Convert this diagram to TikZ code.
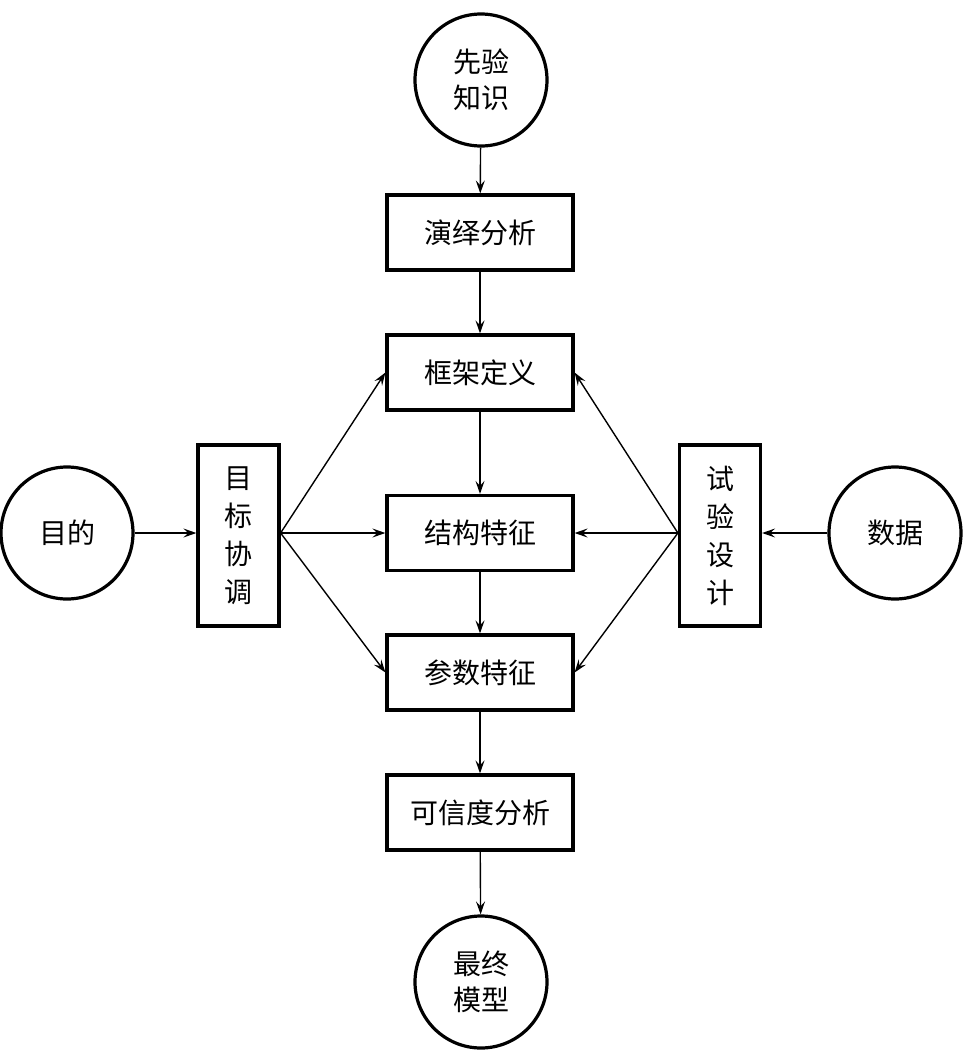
\documentclass[tikz,border=0pt]{standalone}
\usepackage{fontspec}
\setmainfont{Noto Sans CJK SC}
\usetikzlibrary{arrows.meta}
\begin{document}
\begin{tikzpicture}[x=1pt,y=-1pt,
  box/.style={draw,line width=3.2pt,minimum width=186pt,minimum height=75pt,inner sep=0pt,font=\fontsize{28}{30}\selectfont},
  vbox/.style={draw,line width=3.2pt,minimum width=81pt,minimum height=181pt,inner sep=0pt,font=\fontsize{28}{38}\selectfont,align=center},
  circ/.style={draw,circle,line width=3.2pt,minimum size=132pt,inner sep=0pt,font=\fontsize{28}{36}\selectfont,align=center},
  conn/.style={line width=1.4pt,-{Stealth[length=13pt,width=9pt,inset=5pt]}}]
\useasboundingbox (0,0) rectangle (963,1053);
\node[circ] (know) at (481,80) {先验\\知识};
\node[box] (ded) at (480,232.5) {演绎分析};
\node[box] (frame) at (480,372.5) {框架定义};
\node[box] (struct) at (480,533) {结构特征};
\node[box] (param) at (480,672.5) {参数特征};
\node[box] (cred) at (480,812.5) {可信度分析};
\node[circ] (final) at (481,982) {最终\\模型};
\node[circ] (goal) at (67,533) {目的};
\node[vbox] (coord) at (238.5,535.5) {目\\标\\协\\调};
\node[vbox] (exp) at (720,535.5) {试\\验\\设\\计};
\node[circ] (data) at (895,533) {数据};
\draw[conn] (know) -- (ded);
\draw[conn] (ded) -- (frame);
\draw[conn] (frame) -- (struct);
\draw[conn] (struct) -- (param);
\draw[conn] (param) -- (cred);
\draw[conn] (cred) -- (final);
\draw[conn] (goal) -- (goal -| coord.west);
\draw[conn] (data) -- (data -| exp.east);
\draw[conn] (coord.east |- struct) -- (struct.west);
\draw[conn] (coord.east |- struct) -- (frame.west);
\draw[conn] (coord.east |- struct) -- (param.west);
\draw[conn] (exp.west |- struct) -- (struct.east);
\draw[conn] (exp.west |- struct) -- (frame.east);
\draw[conn] (exp.west |- struct) -- (param.east);
\end{tikzpicture}
\end{document}
